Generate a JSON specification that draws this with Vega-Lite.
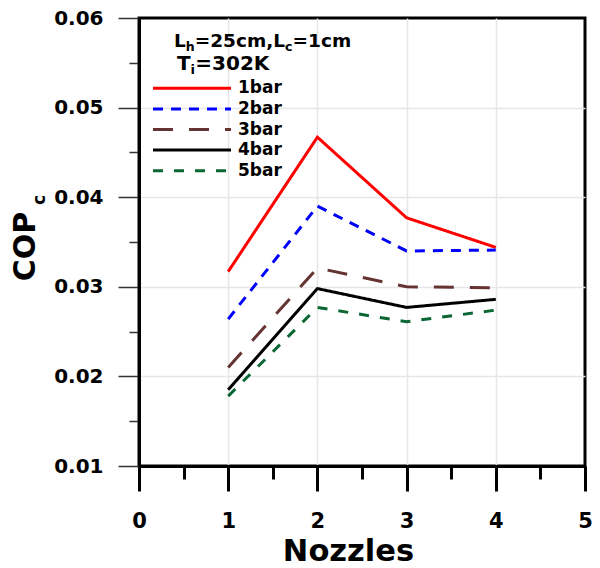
{
  "$schema": "https://vega.github.io/schema/vega-lite/v6.json",
  "width": 446,
  "height": 448,
  "autosize": "none",
  "padding": {"left": 139, "top": 18, "right": 15, "bottom": 102},
  "background": "white",
  "config": {
    "view": {"stroke": "black", "strokeWidth": 3},
    "font": "DejaVu Sans",
    "axis": {"labelFont": "DejaVu Sans", "titleFont": "DejaVu Sans", "labelFontWeight": "bold", "titleFontWeight": "bold", "labelColor": "black", "titleColor": "black"},
    "legend": {"orient": "none", "legendX": 12.5, "legendY": 60.3, "padding": 0, "symbolType": "stroke", "symbolSize": 6084, "symbolStrokeWidth": 3, "labelFont": "DejaVu Sans", "labelFontSize": 17, "labelFontWeight": "bold", "labelColor": "black", "labelOffset": 5.5, "clipHeight": 20, "rowPadding": 0.6}
  },
  "datasets": {
    "cop": [
      {"nozzles": 1, "cop": 0.0317, "pressure": "1bar"},
      {"nozzles": 2, "cop": 0.0467, "pressure": "1bar"},
      {"nozzles": 3, "cop": 0.0377, "pressure": "1bar"},
      {"nozzles": 4, "cop": 0.0344, "pressure": "1bar"},
      {"nozzles": 1, "cop": 0.0264, "pressure": "2bar"},
      {"nozzles": 2, "cop": 0.0390, "pressure": "2bar"},
      {"nozzles": 3, "cop": 0.0340, "pressure": "2bar"},
      {"nozzles": 4, "cop": 0.0341, "pressure": "2bar"},
      {"nozzles": 1, "cop": 0.0210, "pressure": "3bar"},
      {"nozzles": 2, "cop": 0.0321, "pressure": "3bar"},
      {"nozzles": 3, "cop": 0.0300, "pressure": "3bar"},
      {"nozzles": 4, "cop": 0.0299, "pressure": "3bar"},
      {"nozzles": 1, "cop": 0.0185, "pressure": "4bar"},
      {"nozzles": 2, "cop": 0.0298, "pressure": "4bar"},
      {"nozzles": 3, "cop": 0.0277, "pressure": "4bar"},
      {"nozzles": 4, "cop": 0.0286, "pressure": "4bar"},
      {"nozzles": 1, "cop": 0.0178, "pressure": "5bar"},
      {"nozzles": 2, "cop": 0.0277, "pressure": "5bar"},
      {"nozzles": 3, "cop": 0.0261, "pressure": "5bar"},
      {"nozzles": 4, "cop": 0.0274, "pressure": "5bar"}
    ]
  },
  "resolve": {"axis": {"x": "independent", "y": "independent"}},
  "layer": [
    {
      "data": {"name": "cop"},
      "mark": {"type": "point", "opacity": 0},
      "encoding": {
        "x": {"field": "nozzles", "type": "quantitative", "scale": {"domain": [0, 5], "nice": false, "zero": false},
          "axis": {"orient": "bottom", "values": [1, 2, 3, 4], "grid": true, "gridColor": "#e6e6e6", "gridWidth": 1.5, "ticks": false, "labels": false, "domain": false, "title": null}},
        "y": {"field": "cop", "type": "quantitative", "scale": {"domain": [0.01, 0.06], "nice": false, "zero": false},
          "axis": {"orient": "left", "values": [0.02, 0.03, 0.04, 0.05], "grid": true, "gridColor": "#e6e6e6", "gridWidth": 1.5, "ticks": false, "labels": false, "domain": false, "title": null}}
      }
    },
    {
      "data": {"name": "cop"},
      "mark": {"type": "point", "opacity": 0},
      "encoding": {
        "x": {"field": "nozzles", "type": "quantitative",
          "axis": {"orient": "bottom", "values": [0.5, 1.5, 2.5, 3.5, 4.5], "grid": false, "tickSize": 13, "tickWidth": 3, "tickColor": "black", "labels": false, "domain": false, "title": null}},
        "y": {"field": "cop", "type": "quantitative",
          "axis": {"orient": "left", "values": [0.015, 0.025, 0.035, 0.045, 0.055], "grid": false, "tickSize": 10, "tickWidth": 1.5, "tickColor": "#333", "labels": false, "domain": false, "title": null}}
      }
    },
    {
      "data": {"name": "cop"},
      "mark": {"type": "line", "strokeWidth": 3, "clip": false},
      "encoding": {
        "x": {"field": "nozzles", "type": "quantitative",
          "axis": {"orient": "bottom", "values": [0, 1, 2, 3, 4, 5], "format": "d", "grid": false, "tickSize": 25, "tickWidth": 3, "tickColor": "black", "domainColor": "black", "domainWidth": 3, "labelFontSize": 21, "labelPadding": 19, "labelFlush": false, "labelOverlap": false, "title": "Nozzles", "titleFontSize": 30.5, "titleBaseline": "alphabetic", "titleAlign": "center", "titleX": 209, "titleY": 94}},
        "y": {"field": "cop", "type": "quantitative",
          "axis": {"orient": "left", "values": [0.01, 0.02, 0.03, 0.04, 0.05, 0.06], "format": ".2f", "grid": false, "tickSize": 21, "tickWidth": 1.5, "tickColor": "#333", "domainColor": "black", "domainWidth": 3, "labelFontSize": 20, "labelPadding": 15, "labelFlush": false, "labelOverlap": false, "title": "COP", "titleFontSize": 30, "titleAngle": -90, "titleBaseline": "alphabetic", "titleAlign": "center", "titleX": -105, "titleY": 228}},
        "color": {"field": "pressure", "type": "nominal",
          "scale": {"domain": ["1bar", "2bar", "3bar", "4bar", "5bar"], "range": ["#ff0000", "#0000ff", "#663333", "#000000", "#0a6632"]},
          "legend": {"title": null}},
        "strokeDash": {"field": "pressure", "type": "nominal",
          "scale": {"domain": ["1bar", "2bar", "3bar", "4bar", "5bar"], "range": [[1, 0], [10, 8], [20, 16], [1, 0], [10, 11]]},
          "legend": {"title": null}}
      }
    },
    {
      "data": {"values": [{}]},
      "mark": {"type": "text", "font": "DejaVu Sans", "fontWeight": "bold", "fontSize": 18.5, "align": "left", "baseline": "alphabetic", "color": "black", "dx": 0},
      "encoding": {"x": {"datum": 0.392, "type": "quantitative", "axis": null}, "y": {"datum": 0.0568, "type": "quantitative", "axis": null}, "text": {"value": "L"}}
    },
    {
      "data": {"values": [{}]},
      "mark": {"type": "text", "font": "DejaVu Sans", "fontWeight": "bold", "fontSize": 12.5, "align": "left", "baseline": "alphabetic", "color": "black", "dx": 11.8, "dy": 4},
      "encoding": {"x": {"datum": 0.392, "type": "quantitative", "axis": null}, "y": {"datum": 0.0568, "type": "quantitative", "axis": null}, "text": {"value": "h"}}
    },
    {
      "data": {"values": [{}]},
      "mark": {"type": "text", "font": "DejaVu Sans", "fontWeight": "bold", "fontSize": 18.5, "align": "left", "baseline": "alphabetic", "color": "black", "dx": 20.7},
      "encoding": {"x": {"datum": 0.392, "type": "quantitative", "axis": null}, "y": {"datum": 0.0568, "type": "quantitative", "axis": null}, "text": {"value": "=25cm,L"}}
    },
    {
      "data": {"values": [{}]},
      "mark": {"type": "text", "font": "DejaVu Sans", "fontWeight": "bold", "fontSize": 12.5, "align": "left", "baseline": "alphabetic", "color": "black", "dx": 111, "dy": 4},
      "encoding": {"x": {"datum": 0.392, "type": "quantitative", "axis": null}, "y": {"datum": 0.0568, "type": "quantitative", "axis": null}, "text": {"value": "c"}}
    },
    {
      "data": {"values": [{}]},
      "mark": {"type": "text", "font": "DejaVu Sans", "fontWeight": "bold", "fontSize": 18.5, "align": "left", "baseline": "alphabetic", "color": "black", "dx": 118.6},
      "encoding": {"x": {"datum": 0.392, "type": "quantitative", "axis": null}, "y": {"datum": 0.0568, "type": "quantitative", "axis": null}, "text": {"value": "=1cm"}}
    },
    {
      "data": {"values": [{}]},
      "mark": {"type": "text", "font": "DejaVu Sans", "fontWeight": "bold", "fontSize": 20, "align": "left", "baseline": "alphabetic", "color": "black", "dx": 0},
      "encoding": {"x": {"datum": 0.426, "type": "quantitative", "axis": null}, "y": {"datum": 0.0542, "type": "quantitative", "axis": null}, "text": {"value": "T"}}
    },
    {
      "data": {"values": [{}]},
      "mark": {"type": "text", "font": "DejaVu Sans", "fontWeight": "bold", "fontSize": 13, "align": "left", "baseline": "alphabetic", "color": "black", "dx": 13.6, "dy": 4},
      "encoding": {"x": {"datum": 0.426, "type": "quantitative", "axis": null}, "y": {"datum": 0.0542, "type": "quantitative", "axis": null}, "text": {"value": "i"}}
    },
    {
      "data": {"values": [{}]},
      "mark": {"type": "text", "font": "DejaVu Sans", "fontWeight": "bold", "fontSize": 20, "align": "left", "baseline": "alphabetic", "color": "black", "dx": 18.3},
      "encoding": {"x": {"datum": 0.426, "type": "quantitative", "axis": null}, "y": {"datum": 0.0542, "type": "quantitative", "axis": null}, "text": {"value": "=302K"}}
    },
    {
      "data": {"values": [{}]},
      "mark": {"type": "text", "font": "DejaVu Sans", "fontWeight": "bold", "fontSize": 17, "align": "center", "baseline": "alphabetic", "angle": 270, "color": "black"},
      "encoding": {"x": {"datum": -1.055, "type": "quantitative", "axis": null}, "y": {"datum": 0.0397, "type": "quantitative", "axis": null}, "text": {"value": "c"}}
    }
  ]
}
